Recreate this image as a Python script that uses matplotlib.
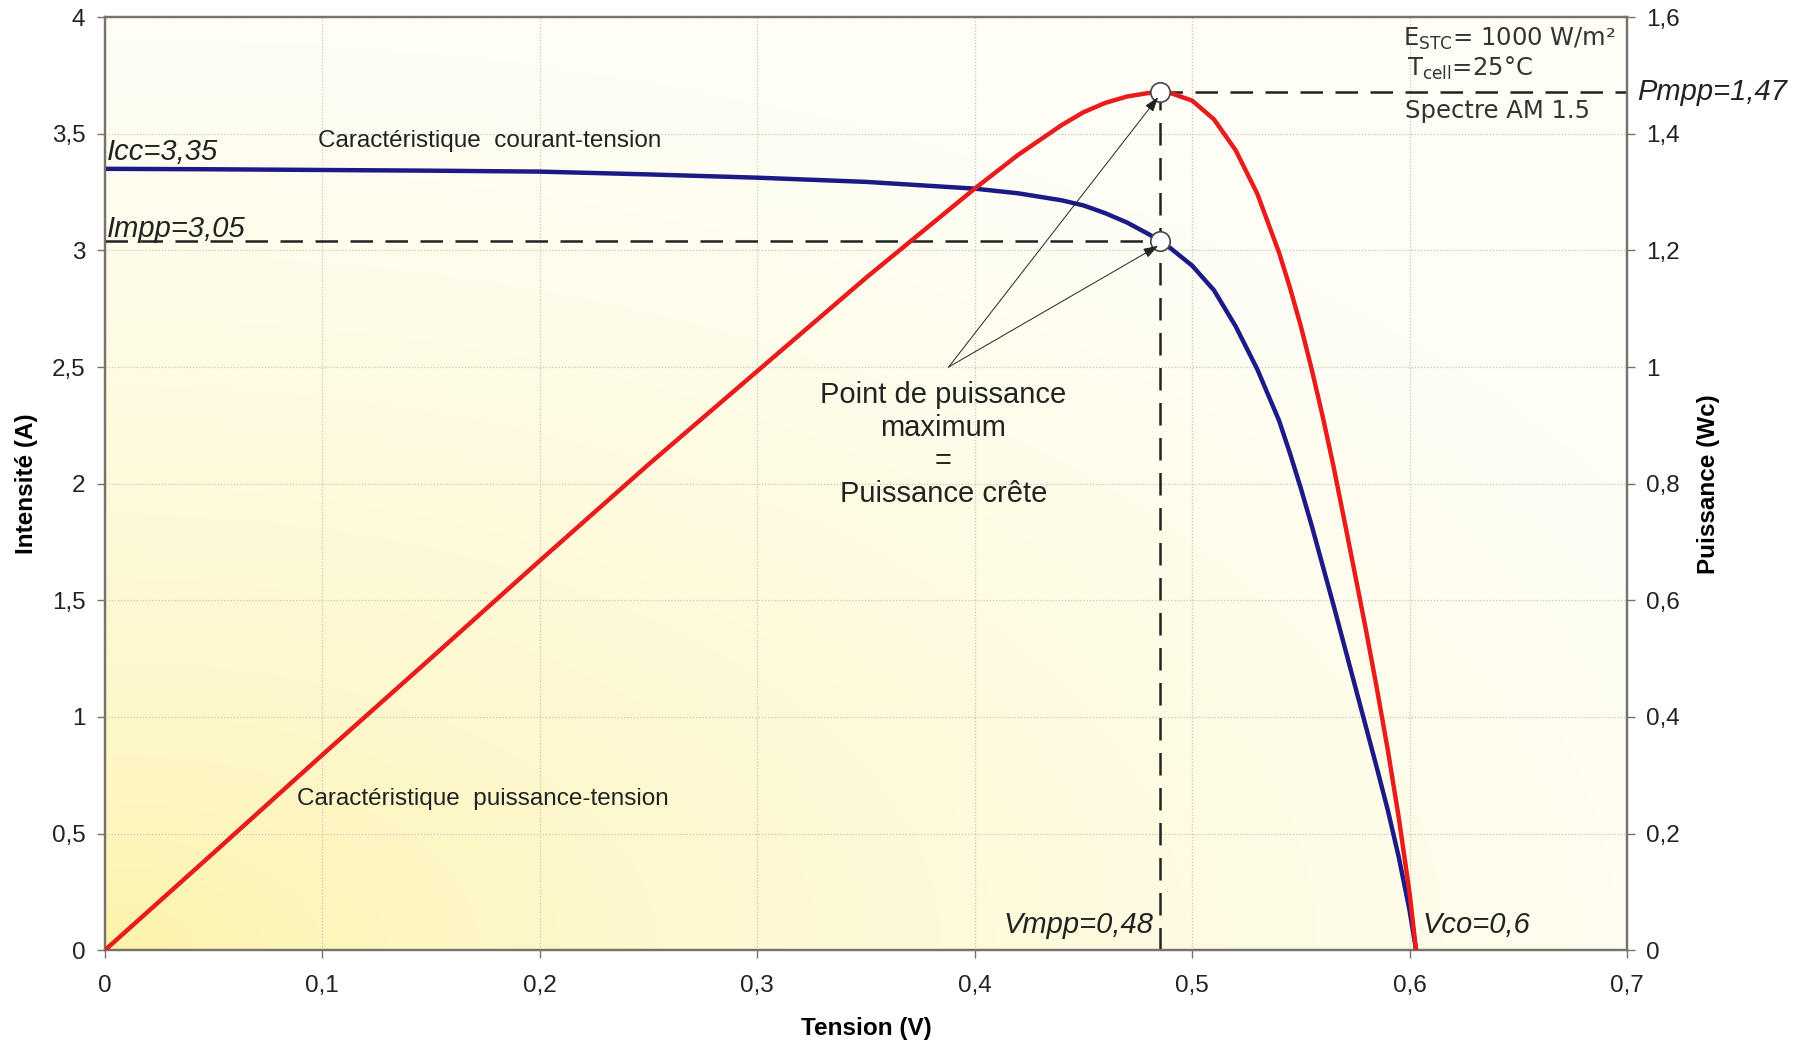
import numpy as np
import matplotlib
matplotlib.use("Agg")
import matplotlib.pyplot as plt
from matplotlib.ticker import FuncFormatter, MultipleLocator

plt.rcParams['font.family'] = ['Liberation Sans', 'DejaVu Sans']

# tension (V), courant (A) et puissance (W)
tension = [0, 0.05, 0.1, 0.15, 0.2, 0.25, 0.3, 0.35, 0.4, 0.42, 0.44, 0.45,
           0.46, 0.47, 0.48, 0.4854, 0.49, 0.50, 0.51, 0.52, 0.53, 0.54,
           0.545, 0.55, 0.555, 0.56, 0.565, 0.57, 0.575, 0.58, 0.585, 0.59,
           0.595, 0.60, 0.603]
courant = [3.35, 3.348, 3.345, 3.342, 3.338, 3.326, 3.312, 3.294, 3.265, 3.245,
           3.215, 3.193, 3.16, 3.12, 3.07, 3.04, 3.01, 2.935, 2.83, 2.675,
           2.49, 2.27, 2.13, 1.98, 1.82, 1.65, 1.48, 1.305, 1.13, 0.955,
           0.78, 0.60, 0.40, 0.17, 0.0]
puissance = [0, 0.167, 0.335, 0.501, 0.668, 0.833, 0.993, 1.153, 1.306, 1.364,
             1.415, 1.437, 1.453, 1.464, 1.47, 1.471, 1.470, 1.457, 1.425, 1.372,
             1.297, 1.196, 1.136, 1.070, 0.996, 0.916, 0.83, 0.737, 0.643, 0.548,
             0.448, 0.343, 0.228, 0.098, 0.0]

v_mpp = 0.4854
i_mpp = 3.04
p_mpp = 1.471
v_co = 0.603


def virgule(v, pos):
    return f"{v:g}".replace('.', ',')


fig = plt.figure(figsize=(18.09, 10.43), dpi=100)
ax1 = fig.add_axes([0.0580, 0.089, 0.8414, 0.8945])
ax2 = ax1.twinx()

# fond dégradé jaune -> crème
nx, ny = 300, 200
gx, gy = np.meshgrid(np.linspace(0, 1, nx), np.linspace(0, 1, ny))
t = np.clip(np.sqrt((gx / 1.0) ** 2 + (gy / 0.85) ** 2) / 1.15, 0, 1) ** 0.6
c0 = np.array([252, 242, 165]) / 255
c1 = np.array([255, 254, 246]) / 255
img = c0[None, None, :] * (1 - t[..., None]) + c1[None, None, :] * t[..., None]
ax1.imshow(img, extent=(0, 1, 0, 1), transform=ax1.transAxes, origin='lower',
           aspect='auto', zorder=0, interpolation='bilinear')

ax1.set_xlim(0, 0.7)
ax1.set_ylim(0, 4)
ax2.set_ylim(0, 1.6)

ax1.plot(tension, courant, color='#1c1a86', lw=3.2, zorder=4,
         solid_joinstyle='round')
ax2.plot(tension, puissance, color='#e81c1c', lw=3.2, zorder=4,
         solid_joinstyle='round')

# lignes pointillées du point de puissance maximum
dash = dict(color='#222222', lw=1.8, dashes=(9, 5), zorder=3)
ax1.plot([0, v_mpp], [i_mpp, i_mpp], **dash)
ax1.plot([v_mpp, v_mpp], [0, p_mpp * 2.5], **dash)
ax1.plot([v_mpp, 0.7], [p_mpp * 2.5, p_mpp * 2.5], clip_on=False, **dash)

ax2.plot([v_mpp], [i_mpp / 2.5], 'o', ms=14, mfc='white', mec='#444444',
         mew=1.2, zorder=6)
ax2.plot([v_mpp], [p_mpp], 'o', ms=14, mfc='white', mec='#444444',
         mew=1.2, zorder=6)

for ytip in (p_mpp * 2.5, i_mpp):
    ax2.annotate('', xy=(v_mpp - 0.001, (ytip - 0.02) / 2.5),
                 xytext=(0.388, 2.50 / 2.5),
                 arrowprops=dict(arrowstyle='-|>,head_length=0.9,head_width=0.3',
                                 color='#222222', lw=0.7, shrinkA=0, shrinkB=0),
                 zorder=7)

# axes
for ax in (ax1, ax2):
    for s in ax.spines.values():
        s.set_color('#77736a')
        s.set_linewidth(1.6)
    ax.tick_params(direction='out', length=6, width=1, color='#77736a',
                   labelsize=17.5, labelcolor='#222222')
ax1.xaxis.set_major_locator(MultipleLocator(0.1))
ax1.yaxis.set_major_locator(MultipleLocator(0.5))
ax2.yaxis.set_major_locator(MultipleLocator(0.2))
ax1.xaxis.set_major_formatter(FuncFormatter(virgule))
ax1.yaxis.set_major_formatter(FuncFormatter(virgule))
ax2.yaxis.set_major_formatter(FuncFormatter(virgule))
ax1.tick_params(axis='x', pad=12)
ax1.tick_params(axis='y', pad=8)
ax2.tick_params(axis='y', pad=8)
ax1.grid(True, color='#c9c6b8', lw=0.9, ls=(0, (1, 1.5)), zorder=1)
ax1.set_axisbelow(False)

ax1.set_xlabel('Tension (V)', fontsize=17.5, fontweight='bold', labelpad=14)
ax1.set_ylabel('Intensité (A)', fontsize=17.5, fontweight='bold', labelpad=10)
ax2.set_ylabel('Puissance (Wc)', fontsize=17.5, fontweight='bold', labelpad=12)

# annotations
it = dict(fontsize=21, style='italic', color='#222222')
ax1.text(0.001, 3.36, 'Icc=3,35', va='bottom', ha='left', **it)
ax1.text(0.001, 3.03, 'Impp=3,05', va='bottom', ha='left', **it)
ax1.text(v_mpp - 0.003, 0.05, 'Vmpp=0,48', va='bottom', ha='right', **it)
ax1.text(v_co + 0.003, 0.05, 'Vco=0,6', va='bottom', ha='left', **it)
ax1.text(0.7045, p_mpp * 2.5, 'Pmpp=1,47', va='center', ha='left',
         clip_on=False, **it)

ax1.text(0.098, 3.47, 'Caractéristique  courant-tension', fontsize=17.5,
         color='#222222', va='center')
ax1.text(0.0885, 0.65, 'Caractéristique  puissance-tension', fontsize=17.5,
         color='#222222', va='center')
ax1.text(0.3856, 2.44, 'Point de puissance\nmaximum\n=\nPuissance crête',
         fontsize=21, color='#222222', ha='center', va='top',
         linespacing=1.22)

bx = dict(fontsize=17.5, color='#333333', family='DejaVu Sans', ha='left',
          va='center')
ax1.text(0.597, 3.905, 'E$_{\\mathrm{STC}}$= 1000 W/m²', **bx)
ax1.text(0.599, 3.78, 'T$_{\\mathrm{cell}}$=25°C', **bx)
ax1.text(0.598, 3.60, 'Spectre AM 1.5', **bx)

fig.savefig('out.png', dpi=100)
